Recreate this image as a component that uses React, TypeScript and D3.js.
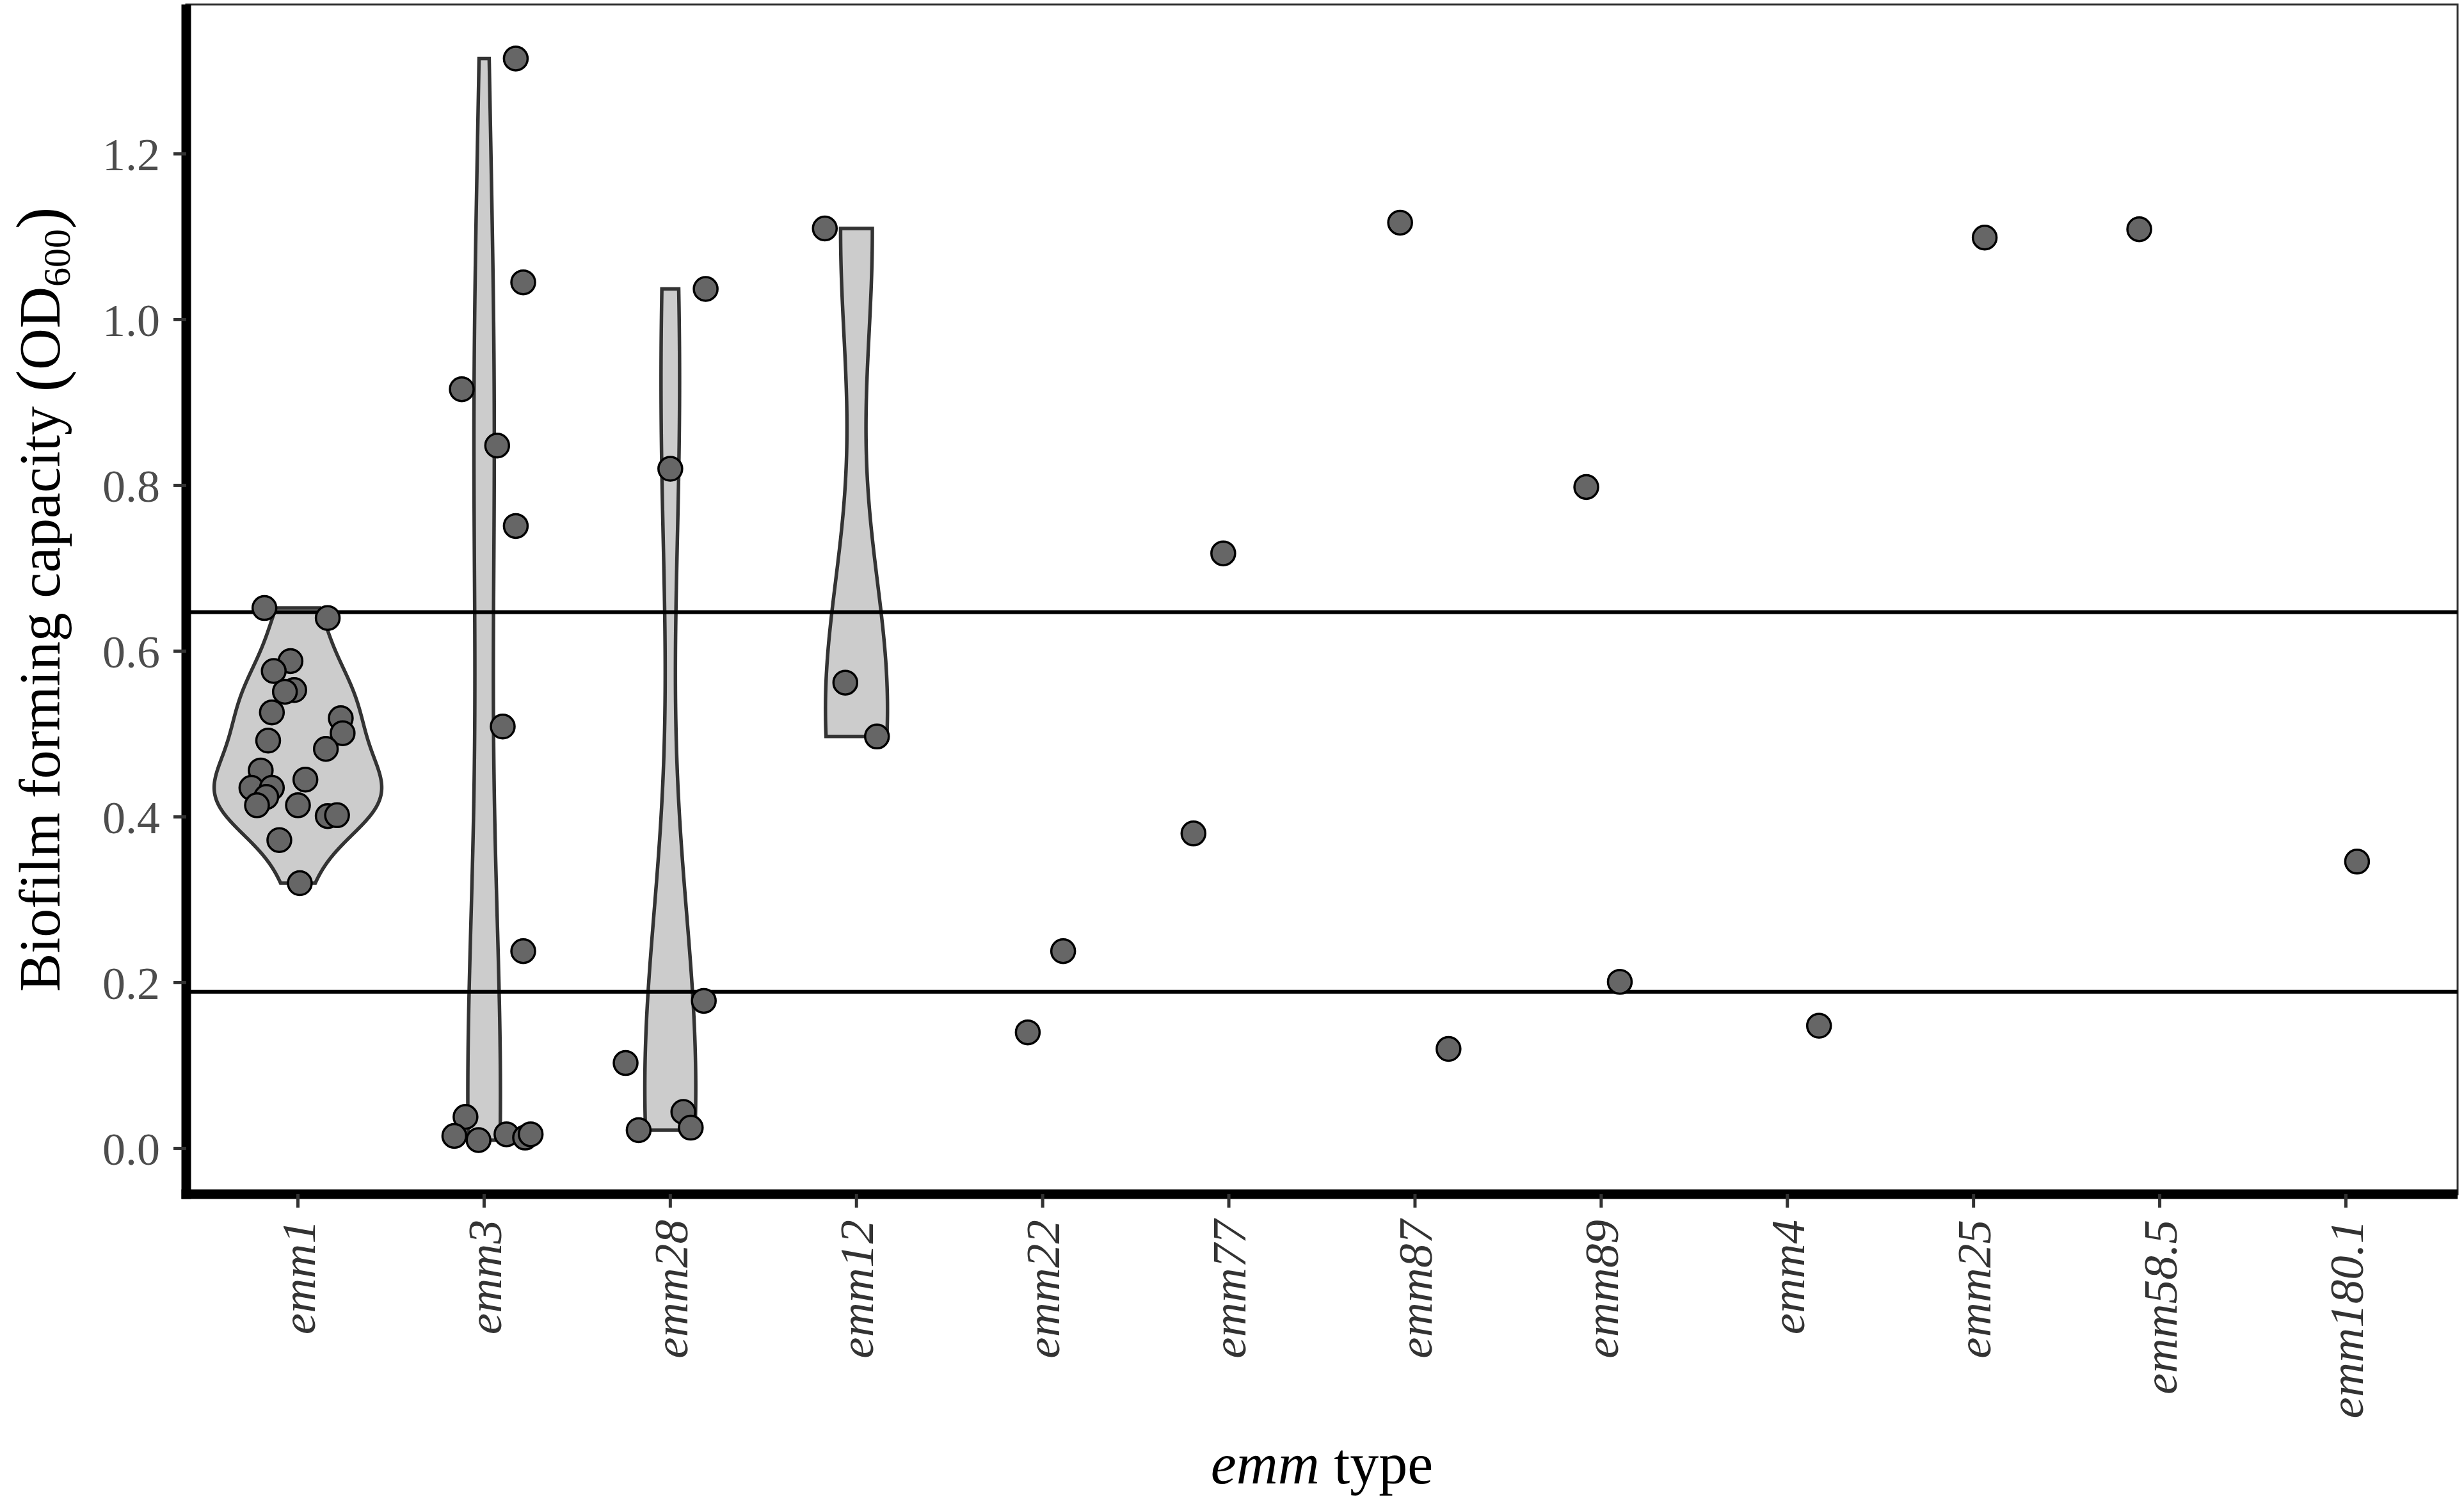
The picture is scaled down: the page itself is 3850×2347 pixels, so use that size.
import React from 'react';
import * as d3 from 'd3';

// emm types in plotting order
const categories = [
  'emm1', 'emm3', 'emm28', 'emm12', 'emm22', 'emm77',
  'emm87', 'emm89', 'emm4', 'emm25', 'emm58.5', 'emm180.1',
];

// biofilm OD600 per isolate, grouped by emm type
const emm1Values = [0.652, 0.640, 0.588, 0.576, 0.553, 0.551, 0.526, 0.519, 0.501, 0.492, 0.482,
  0.456, 0.445, 0.435, 0.435, 0.424, 0.414, 0.414, 0.401, 0.402, 0.372, 0.320];
const emm3Values = [1.315, 1.045, 0.916, 0.848, 0.751, 0.509, 0.238, 0.038, 0.015, 0.010, 0.017, 0.013, 0.017];
const emm28Values = [1.037, 0.820, 0.178, 0.103, 0.044, 0.025, 0.022];
const emm12Values = [1.110, 0.562, 0.497];
const emm22Values = [0.140, 0.238];
const emm77Values = [0.380, 0.718];
const emm87Values = [1.117, 0.120];
const emm89Values = [0.798, 0.201];
const emm4Values = [0.148];
const emm25Values = [1.099];
const emm58_5Values = [1.109];
const emm180_1Values = [0.346];

// horizontal jitter of each point, in category steps
const emm1Jitter = [-0.18, 0.16, -0.04, -0.13, -0.02, -0.07, -0.14, 0.23, 0.24, -0.16, 0.15,
  -0.20, 0.04, -0.25, -0.14, -0.17, -0.22, 0.0, 0.16, 0.21, -0.10, 0.01];
const emm3Jitter = [0.17, 0.21, -0.12, 0.07, 0.17, 0.10, 0.21, -0.10, -0.16, -0.03, 0.12, 0.22, 0.25];
const emm28Jitter = [0.19, 0.0, 0.18, -0.24, 0.07, 0.11, -0.17];
const emm12Jitter = [-0.17, -0.06, 0.11];
const emm22Jitter = [-0.08, 0.11];
const emm77Jitter = [-0.19, -0.03];
const emm87Jitter = [-0.08, 0.18];
const emm89Jitter = [-0.08, 0.10];
const emm4Jitter = [0.17];
const emm25Jitter = [0.06];
const emm58_5Jitter = [-0.11];
const emm180_1Jitter = [0.06];

const violinGroups = ['emm1', 'emm3', 'emm28', 'emm12'];
const yTicks = [0, 0.2, 0.4, 0.6, 0.8, 1.0, 1.2];
const thresholds = [0.647, 0.189];

const groupValues: Record<string, number[]> = {
  'emm1': emm1Values, 'emm3': emm3Values, 'emm28': emm28Values, 'emm12': emm12Values,
  'emm22': emm22Values, 'emm77': emm77Values, 'emm87': emm87Values, 'emm89': emm89Values,
  'emm4': emm4Values, 'emm25': emm25Values, 'emm58.5': emm58_5Values, 'emm180.1': emm180_1Values,
};
const groupJitter: Record<string, number[]> = {
  'emm1': emm1Jitter, 'emm3': emm3Jitter, 'emm28': emm28Jitter, 'emm12': emm12Jitter,
  'emm22': emm22Jitter, 'emm77': emm77Jitter, 'emm87': emm87Jitter, 'emm89': emm89Jitter,
  'emm4': emm4Jitter, 'emm25': emm25Jitter, 'emm58.5': emm58_5Jitter, 'emm180.1': emm180_1Jitter,
};

const W = 3850;
const H = 2347;
const FONT = '"Liberation Serif", "Times New Roman", serif';

// R's bw.nrd0
function nrd0(v: number[]) {
  const s = v.slice().sort(d3.ascending);
  const sd = d3.deviation(s) || 0;
  const iqr = (d3.quantile(s, 0.75) || 0) - (d3.quantile(s, 0.25) || 0);
  let lo = Math.min(sd, iqr / 1.34);
  if (!lo) lo = sd || Math.abs(s[0]) || 1;
  return 0.9 * lo * Math.pow(s.length, -0.2);
}

function kde(v: number[], n = 512) {
  const bw = nrd0(v);
  const [lo, hi] = d3.extent(v) as [number, number];
  return d3.range(n).map(i => {
    const t = lo + ((hi - lo) * i) / (n - 1);
    const d = d3.mean(v, x => Math.exp(-0.5 * ((t - x) / bw) ** 2) / (bw * Math.sqrt(2 * Math.PI))) || 0;
    return { y: t, d };
  });
}

export default function App() {
  const margin = { left: 291, right: 10, top: 7, bottom: 481 };
  const panelLeft = margin.left;
  const panelRight = W - margin.right;
  const panelTop = margin.top;
  const panelBottom = H - margin.bottom;

  const all = categories.flatMap(c => groupValues[c]);
  const [mn, mx] = d3.extent(all) as [number, number];
  const pad = (mx - mn) * 0.05;

  const y = d3.scaleLinear().domain([mn - pad, mx + pad]).range([panelBottom, panelTop]);
  const x = d3.scalePoint<string>().domain(categories).range([panelLeft, panelRight]).padding(0.6);
  const step = x.step();

  const densities = violinGroups.map(g => ({ g, pts: kde(groupValues[g]) }));
  const maxD = d3.max(densities, v => d3.max(v.pts, p => p.d)) || 1;
  const halfW = d3.scaleLinear().domain([0, maxD]).range([0, step * 0.45]);

  const violins = densities.map(({ g, pts }) => {
    const cx = x(g) || 0;
    const area = d3.area<{ y: number; d: number }>()
      .y(p => y(p.y))
      .x0(p => cx - halfW(p.d))
      .x1(p => cx + halfW(p.d));
    return { g, path: area(pts) || '' };
  });

  const points = categories.flatMap(c =>
    groupValues[c].map((v, i) => ({ c, v, j: groupJitter[c][i] || 0 }))
  );

  const cxMid = (panelLeft + panelRight) / 2;
  const cyMid = (panelTop + panelBottom) / 2;

  return (
    <svg width={W} height={H} style={{ position: 'absolute', left: 0, top: 0, background: '#fff' }}
      fontFamily={FONT}>
      <rect x={0} y={0} width={W} height={H} fill="#fff" />

      {/* panel border */}
      <rect x={panelLeft} y={panelTop} width={panelRight - panelLeft} height={panelBottom - panelTop}
        fill="none" stroke="#333" strokeWidth={3} />

      {/* violins */}
      {violins.map(v => (
        <path key={v.g} d={v.path} fill="#cccccc" stroke="#333333" strokeWidth={5.5} strokeLinejoin="miter" />
      ))}

      {/* threshold lines */}
      {thresholds.map(t => (
        <line key={t} x1={panelLeft} x2={panelRight} y1={y(t)} y2={y(t)} stroke="#000" strokeWidth={6} />
      ))}

      {/* points */}
      {points.map((p, i) => (
        <circle key={i} cx={(x(p.c) || 0) + p.j * step} cy={y(p.v)} r={18.5}
          fill="#666666" stroke="#000" strokeWidth={3.5} />
      ))}

      {/* axes */}
      <line x1={panelLeft} x2={panelLeft} y1={panelTop} y2={panelBottom + 7.5} stroke="#000" strokeWidth={15} />
      <line x1={panelLeft - 7.5} x2={panelRight} y1={panelBottom} y2={panelBottom} stroke="#000" strokeWidth={15} />

      {yTicks.map(t => (
        <g key={t} transform={`translate(${panelLeft},${y(t)})`}>
          <line x1={-20} x2={0} stroke="#333" strokeWidth={5} />
          <text x={-41} dy="0.35em" textAnchor="end" fontSize={72} fill="#4d4d4d">{t.toFixed(1)}</text>
        </g>
      ))}

      {categories.map(c => (
        <g key={c} transform={`translate(${x(c)},${panelBottom})`}>
          <line y1={0} y2={21} stroke="#333" strokeWidth={5} />
          <text transform="translate(0,40) rotate(-90)" dy="0.35em" textAnchor="end" fontSize={75}
            fontStyle="italic" fill="#333">{c}</text>
        </g>
      ))}

      {/* axis titles */}
      <text x={cxMid} y={2318} textAnchor="middle" fontSize={90} fill="#000">
        <tspan fontStyle="italic">emm</tspan> type
      </text>
      <text transform={`translate(93,${cyMid}) rotate(-90)`} textAnchor="middle" fontSize={90} fill="#000">
        {'Biofilm forming capacity '}
        <tspan fontSize={104} dy={4}>(</tspan>
        <tspan dy={-4}>OD</tspan>
        <tspan fontSize={60} dy={16}>600</tspan>
        <tspan fontSize={104} dy={-12}>)</tspan>
      </text>
    </svg>
  );
}
